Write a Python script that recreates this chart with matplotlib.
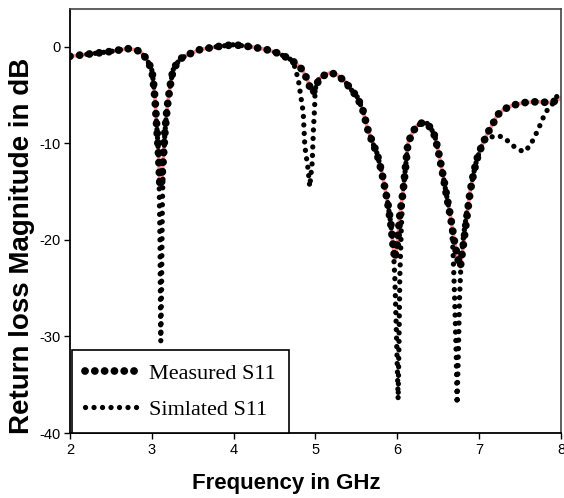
import matplotlib
matplotlib.use('Agg')
import matplotlib.pyplot as plt
from matplotlib.lines import Line2D

# frequency (GHz) / return loss (dB)
meas_freq = [2.00, 2.10, 2.20, 2.30, 2.40, 2.50, 2.60, 2.70, 2.78, 2.86, 2.94, 3.00, 3.02,
             3.04, 3.06, 3.08, 3.10, 3.12, 3.14, 3.16, 3.18, 3.20, 3.23, 3.26, 3.34, 3.45,
             3.59, 3.80, 4.00, 4.20, 4.40, 4.55, 4.69, 4.77, 4.84, 4.90, 4.94, 4.97, 5.01,
             5.05, 5.10, 5.18, 5.26, 5.36, 5.45, 5.51, 5.58, 5.64, 5.70, 5.75, 5.81, 5.88,
             5.92, 5.95, 5.97, 6.00, 6.03, 6.07, 6.13, 6.19, 6.24, 6.30, 6.36, 6.42, 6.46,
             6.51, 6.56, 6.61, 6.65, 6.70, 6.74, 6.77, 6.81, 6.85, 6.89, 6.93, 6.97, 7.03,
             7.10, 7.18, 7.22, 7.30, 7.40, 7.54, 7.71, 7.87, 7.94, 8.00]
meas_db = [-1.0, -0.9, -0.8, -0.7, -0.6, -0.5, -0.35, -0.2, -0.3, -0.5, -1.3, -2.4, -3.7,
           -5.5, -8.2, -10.7, -14.5, -14.0, -11.7, -8.9, -7.0, -5.5, -3.8, -2.4, -1.3, -0.8,
           -0.3, 0.0, 0.2, 0.0, -0.3, -0.7, -1.3, -1.8, -2.4, -3.4, -4.4, -4.8, -4.0,
           -3.3, -3.0, -2.7, -2.9, -3.6, -4.6, -5.2, -6.6, -8.6, -10.0, -11.0, -13.0, -16.0,
           -18.3, -20.7, -22.0, -20.5, -17.5, -15.0, -10.0, -8.8, -8.2, -7.9, -7.9, -8.6, -9.3,
           -11.2, -13.4, -15.8, -17.6, -20.3, -22.0, -22.8, -20.3, -17.6, -15.0, -13.2, -11.7, -10.3,
           -9.0, -7.8, -7.1, -6.5, -6.1, -5.8, -5.7, -5.8, -5.6, -5.3]

sim_freq = [2.00, 2.10, 2.20, 2.30, 2.40, 2.50, 2.60, 2.70, 2.78, 2.86, 2.94, 3.00, 3.02,
            3.04, 3.06, 3.08, 3.09, 3.10, 3.105, 3.11, 3.12, 3.125, 3.13, 3.14, 3.16, 3.18,
            3.20, 3.23, 3.26, 3.34, 3.45, 3.59, 3.80, 4.00, 4.20, 4.40, 4.55, 4.69, 4.74,
            4.79, 4.85, 4.87, 4.91, 4.93, 4.96, 4.975, 4.99, 4.995, 5.02, 5.06, 5.10, 5.18,
            5.26, 5.36, 5.45, 5.51, 5.58, 5.64, 5.70, 5.75, 5.81, 5.88, 5.92, 5.95, 5.97,
            5.99, 6.01, 6.02, 6.03, 6.05, 6.07, 6.13, 6.19, 6.24, 6.30, 6.36, 6.42, 6.46,
            6.51, 6.56, 6.61, 6.65, 6.68, 6.70, 6.72, 6.73, 6.745, 6.76, 6.78, 6.81, 6.85,
            6.89, 6.93, 6.97, 7.03, 7.10, 7.13, 7.22, 7.30, 7.42, 7.54, 7.62, 7.72, 7.81,
            7.91, 7.97, 8.00]
sim_db = [-1.0, -0.9, -0.8, -0.7, -0.6, -0.5, -0.35, -0.2, -0.3, -0.5, -1.3, -2.4, -3.7,
          -5.5, -8.2, -10.7, -14.0, -20.0, -26.0, -30.5, -25.0, -20.0, -16.0, -12.5, -8.9, -7.0,
          -5.5, -3.8, -2.4, -1.3, -0.8, -0.3, 0.0, 0.2, 0.0, -0.3, -0.7, -1.3, -1.9,
          -3.4, -6.8, -10.3, -12.7, -14.5, -12.0, -8.6, -6.2, -4.5, -3.6, -3.2, -3.0, -2.7,
          -2.9, -3.6, -4.6, -5.2, -6.6, -8.6, -10.0, -11.0, -13.0, -16.0, -18.3, -20.7, -24.0,
          -30.0, -36.5, -31.0, -24.0, -18.5, -15.0, -10.0, -8.8, -8.2, -7.9, -7.9, -8.6, -9.3,
          -11.2, -13.4, -15.8, -17.6, -21.0, -26.0, -32.0, -37.0, -32.0, -26.0, -22.0, -19.5, -17.0,
          -15.0, -13.2, -11.7, -10.3, -9.3, -9.4, -9.2, -9.4, -10.3, -10.9, -10.3, -8.6, -6.8,
          -5.8, -4.8, -4.6]

x_ticks = [2, 3, 4, 5, 6, 7, 8]
y_ticks = [0, -10, -20, -30, -40]

plt.rcParams['font.family'] = ['Liberation Sans', 'DejaVu Sans']
plt.rcParams['axes.unicode_minus'] = False

meas_style = dict(color='black', lw=5.6, linestyle=(0, (0.01, 1.25)), dash_capstyle='round')
sim_style = dict(color='black', lw=3.8, linestyle=(0, (0.01, 1.6)), dash_capstyle='round')

fig = plt.figure(figsize=(5.64, 4.98), dpi=100)
ax = fig.add_axes([0.124, 0.1305, 0.8707, 0.8515])

# measured: thin red trace under big round dots
ax.plot(meas_freq, meas_db, color='#ff3030', lw=2.6, alpha=0.55, zorder=2)
ax.plot(meas_freq, meas_db, zorder=3, **meas_style)
# simulated: smaller dots
ax.plot(sim_freq, sim_db, zorder=2.5, **sim_style)

ax.set_xlim(2, 8)
ax.set_ylim(-40, 3.9)
ax.set_xticks(x_ticks)
ax.set_yticks(y_ticks)
ax.tick_params(direction='out', length=4, width=1, labelsize=10.5, pad=3)
for side in ['left', 'bottom']:
    ax.spines[side].set_color('black')
    ax.spines[side].set_linewidth(1.3)
for side in ['top', 'right']:
    ax.spines[side].set_color('#444444')
    ax.spines[side].set_linewidth(1.2)

ax.set_xlabel('Frequency in GHz', fontsize=16, fontweight='bold')
ax.xaxis.set_label_coords(0.44, -0.12)
ax.xaxis.label.set_va('center')
ax.set_ylabel('Return loss Magnitude in dB', fontsize=20, fontweight='bold')
ax.yaxis.set_label_coords(-0.098, 0.441)
ax.yaxis.label.set_va('center')

handles = [Line2D([], [], **meas_style), Line2D([], [], **sim_style)]
leg = ax.legend(handles, ['Measured S11', 'Simlated S11'], loc='lower left',
                bbox_to_anchor=(0.004, 0.0), borderaxespad=0, fancybox=False,
                edgecolor='black', framealpha=1, handlelength=2.4, handletextpad=0.45,
                borderpad=0.6, labelspacing=0.7,
                prop={'family': ['Liberation Serif'], 'size': 16})
leg.get_frame().set_linewidth(1.2)

fig.savefig('out.png', dpi=100)
